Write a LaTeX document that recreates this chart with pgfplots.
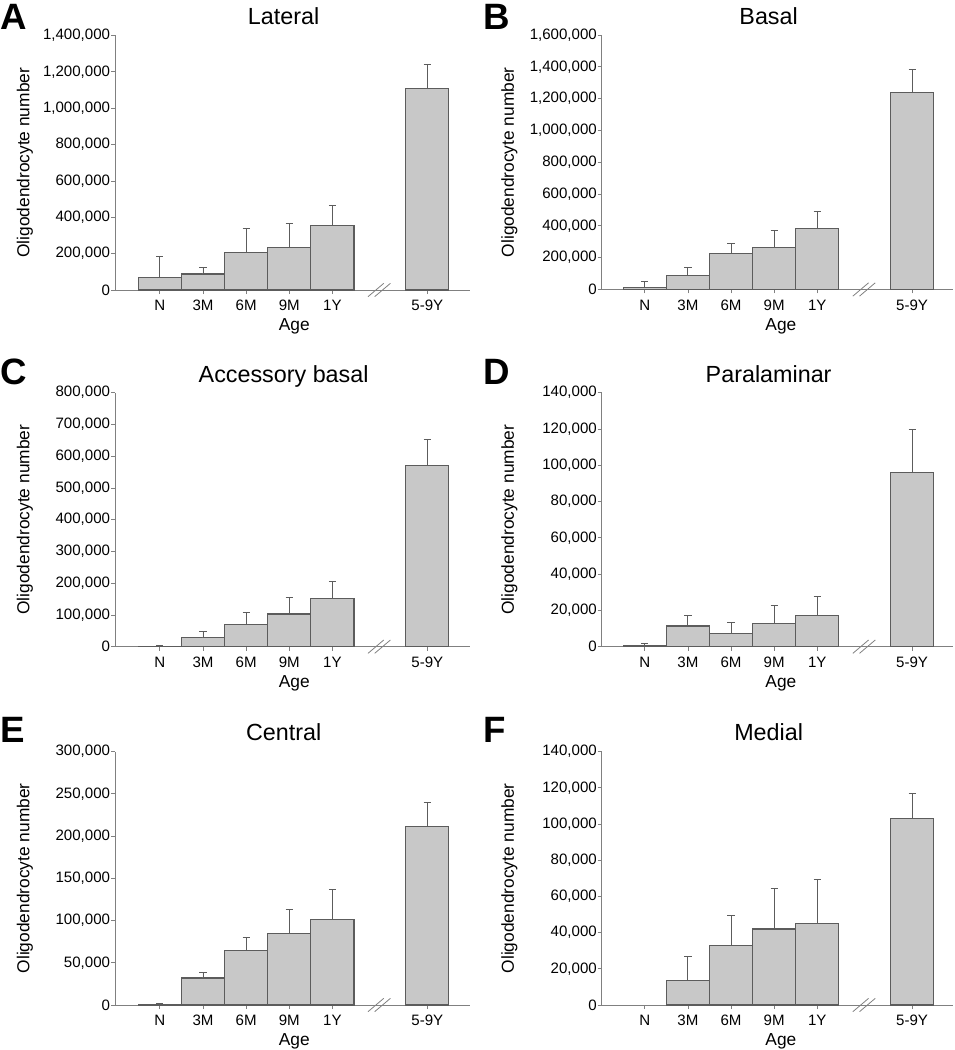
\documentclass[border=0pt]{standalone}
\usepackage{fontspec}
\setmainfont{Liberation Sans}
\usepackage{pgfplots}
\usepackage{pgfplotstable}
\pgfplotsset{compat=1.18}

\definecolor{barfill}{HTML}{C8C8C8}
\definecolor{edgegray}{HTML}{5C5C5C}
\definecolor{axisgray}{HTML}{808080}

\pgfplotstableread{
x y e
0 67500 115500
1 88000 37000
2 207000 130000
3 236000 132000
4 353000 114000
6.2 1107000 136000
}\dataA
\pgfplotstableread{
x y e
0 14700 37300
1 90000 48000
2 226000 65000
3 264000 105000
4 382000 109000
6.2 1241000 139000
}\dataB
\pgfplotstableread{
x y e
0 1500 1500
1 28000 19000
2 71000 38000
3 103000 51000
4 152000 53000
6.2 570000 84000
}\dataC
\pgfplotstableread{
x y e
0 400 1300
1 11400 5900
2 7300 6300
3 13000 9800
4 17300 10400
6.2 95900 23700
}\dataD
\pgfplotstableread{
x y e
0 800 800
1 32000 7000
2 65000 15000
3 84500 28500
4 101000 36000
6.2 211000 29000
}\dataE
\pgfplotstableread{
x y e
1 13400 13300
2 32800 16600
3 42000 22500
4 45100 24200
6.2 103000 13800
}\dataF

\pgfplotsset{
  panel/.style={
    scale only axis, clip=false,
    ybar, bar width=1, ymin=0,
    axis x line*=bottom, axis y line*=left,
    axis line style={draw=axisgray, line width=0.7pt},
    every tick/.style={draw=axisgray, line width=0.6pt},
    tick align=outside, major tick length=3pt,
    xtick={0,1,2,3,4,6.2}, xticklabels={N,3M,6M,9M,1Y,5-9Y},
    scaled y ticks=false,
    /pgf/number format/fixed,
    /pgf/number format/1000 sep={,},
    /pgf/number format/assume math mode=true,
    ticklabel style={font=\fontsize{11.3}{13}\selectfont, text=black},
    yticklabel style={anchor=east, inner sep=0pt, xshift=-0.5pt},
    xticklabel style={anchor=base, inner sep=0pt, yshift=-12.7pt},
    xlabel={Age}, ylabel={Oligodendrocyte number},
    label style={font=\fontsize{13}{15}\selectfont},
    title style={at={(axis description cs:0.475,1)}, anchor=base, yshift=2pt,
      font=\fontsize{17.5}{21}\selectfont},
  },
  leftcol/.style={width=266.25pt, xmin=-1.04, xmax=7.19,
    ylabel style={at={(axis description cs:-0.241,0.5)}, anchor=base},
    xlabel style={at={(axis description cs:0.505,0)}, anchor=base, yshift=-30.6pt}},
  rightcol/.style={width=263.5pt, xmin=-1.0, xmax=7.15,
    ylabel style={at={(axis description cs:-0.25,0.5)}, anchor=base},
    xlabel style={at={(axis description cs:0.51,0)}, anchor=base, yshift=-30.6pt}},
  bars/.style={fill=barfill, draw=edgegray, line width=0.8pt,
    error bars/.cd, y dir=plus, y explicit,
    error bar style={draw=edgegray, line width=0.7pt},
    error mark options={rotate=90, draw=edgegray, line width=0.7pt, mark size=2.7pt}},
}

\newcommand{\breakmark}{%
  \draw[axisgray, line width=0.6pt] ([xshift=-8.4pt,yshift=-5pt]axis cs:5.085,0) -- ([xshift=3.4pt,yshift=5pt]axis cs:5.085,0);
  \draw[axisgray, line width=0.6pt] ([xshift=-3.4pt,yshift=-5pt]axis cs:5.085,0) -- ([xshift=8.4pt,yshift=5pt]axis cs:5.085,0);
}

\begin{document}
\begin{tikzpicture}
\useasboundingbox (0,0) rectangle (716.25pt,-787.5pt);

% Panel letters
\tikzset{panelletter/.style={anchor=base west, inner sep=0pt, font=\fontsize{27.5}{30}\selectfont\bfseries}}
\node[panelletter] at (0pt,-21.8pt) {A};
\node[panelletter] at (362.5pt,-21.8pt) {B};
\node[panelletter] at (0.3pt,-288.5pt) {C};
\node[panelletter] at (362.5pt,-288.5pt) {D};
\node[panelletter] at (0.3pt,-557pt) {E};
\node[panelletter] at (362.5pt,-557pt) {F};

% A
\begin{axis}[panel, leftcol, at={(86.25pt,-217.5pt)}, anchor=south west,
  height=190.9pt, ymax=1400000, ytick={0,200000,...,1400000}, title={Lateral}]
\addplot[bars] table[x=x, y=y, y error=e] {\dataA};
\breakmark
\end{axis}

% B
\begin{axis}[panel, rightcol, at={(451.3pt,-217.1pt)}, anchor=south west,
  height=190.9pt, ymax=1600000, ytick={0,200000,...,1600000}, title={Basal}]
\addplot[bars] table[x=x, y=y, y error=e] {\dataB};
\breakmark
\end{axis}

% C
\begin{axis}[panel, leftcol, at={(86.25pt,-485pt)}, anchor=south west,
  height=190.5pt, ymax=800000, ytick={0,100000,...,800000}, title={Accessory basal}]
\addplot[bars] table[x=x, y=y, y error=e] {\dataC};
\breakmark
\end{axis}

% D
\begin{axis}[panel, rightcol, at={(451.3pt,-485pt)}, anchor=south west,
  height=190.5pt, ymax=140000, ytick={0,20000,...,140000}, title={Paralaminar}]
\addplot[bars] table[x=x, y=y, y error=e] {\dataD};
\breakmark
\end{axis}

% E
\begin{axis}[panel, leftcol, at={(86.25pt,-753.75pt)}, anchor=south west,
  height=190.1pt, ymax=300000, ytick={0,50000,...,300000}, title={Central}]
\addplot[bars] table[x=x, y=y, y error=e] {\dataE};
\breakmark
\end{axis}

% F
\begin{axis}[panel, rightcol, at={(451.3pt,-753.75pt)}, anchor=south west,
  height=190.1pt, ymax=140000, ytick={0,20000,...,140000}, title={Medial}]
\addplot[bars] table[x=x, y=y, y error=e] {\dataF};
\breakmark
\end{axis}
\end{tikzpicture}
\end{document}
